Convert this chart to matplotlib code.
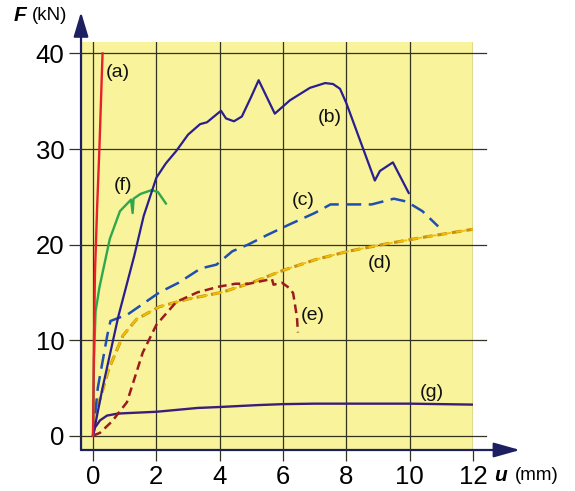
import numpy as np
import matplotlib.pyplot as plt
from matplotlib.patches import FancyArrowPatch

plt.rcParams['font.family'] = ['Liberation Sans', 'DejaVu Sans']

# Load-displacement curves
a_u = [0, 0.03, 0.06, 0.13, 0.2, 0.25, 0.3]
a_F = [0, 10, 17, 24, 30, 35, 40]

b_u = [0, 0.3, 0.8, 1.3, 1.6, 1.68, 2.0, 2.3, 2.63, 3.0, 3.38, 3.6, 4.04, 4.2, 4.45,
       4.7, 5.0, 5.23, 5.74, 6.22, 6.85, 7.33, 7.58, 7.8, 8.0, 8.9, 9.06, 9.47, 9.97]
b_F = [0, 5, 12.5, 18.8, 23, 23.8, 27, 28.5, 29.8, 31.5, 32.6, 32.8, 34, 33.2, 32.9,
       33.4, 35.5, 37.2, 33.7, 35.1, 36.4, 36.9, 36.8, 36.3, 34.8, 26.7, 27.7, 28.6, 25.4]

c_u = [0, 0.15, 0.45, 0.55, 1.1, 2.1, 2.7, 3.4, 3.9, 4.4, 4.9, 5.5, 6.2, 7.0, 7.5,
       8.8, 9.5, 9.9, 10.4, 10.9]
c_F = [0, 5, 10.5, 12, 12.7, 15, 16, 17.5, 17.9, 19.3, 20, 21, 22.1, 23.3, 24.2,
       24.2, 24.8, 24.5, 23.5, 21.9]

d_u = [0, 0.12, 0.5, 0.95, 1.38, 2.1, 3.0, 4.07, 5.0, 6.0, 7.0, 8.06, 9.3, 10.5, 12.0]
d_F = [0, 2.7, 7, 10.5, 12.2, 13.5, 14.3, 15.0, 16.0, 17.3, 18.4, 19.3, 20.1, 20.8, 21.6]

e_u = [0, 0.22, 0.6, 1.07, 1.57, 2.0, 2.63, 3.3, 3.98, 4.5, 4.92, 5.65, 5.7, 5.97,
       6.22, 6.32, 6.44, 6.47]
e_F = [0, 0.3, 1.5, 3.5, 8.7, 11.6, 14, 15, 15.6, 15.9, 15.9, 16.4, 15.8, 16.0,
       15.4, 14.9, 12.4, 10.8]

f_u = [0, 0.03, 0.08, 0.2, 0.31, 0.53, 0.85, 1.2, 1.25, 1.28, 1.5, 1.85, 2.05, 2.3]
f_F = [0, 8, 13, 15.5, 17.2, 20.6, 23.5, 24.7, 23.3, 24.8, 25.3, 25.7, 25.5, 24.3]

g_u = [0, 0.05, 0.22, 0.44, 0.76, 1.0, 2.0, 3.3, 4.0, 5.2, 6.0, 7.0, 8.0, 9.0, 10.0, 11.0, 12.0]
g_F = [0, 0.8, 1.6, 2.1, 2.3, 2.35, 2.5, 2.9, 3.0, 3.2, 3.3, 3.35, 3.35, 3.35, 3.35, 3.3, 3.25]

labels = ['(a)', '(b)', '(c)', '(d)', '(e)', '(f)', '(g)']
label_u = [0.79, 7.48, 6.63, 9.06, 6.95, 0.95, 10.7]
label_F = [38.0, 33.3, 24.6, 18.0, 12.6, 26.2, 4.5]

x_ticks = [0, 2, 4, 6, 8, 10, 12]
y_ticks = [0, 10, 20, 30, 40]

fig = plt.figure(figsize=(5.75, 4.91), dpi=100)
ax = fig.add_axes([0.1409, 0.0835, 0.6817, 0.831])
ax.set_facecolor('#f9f39b')
ax.set_xlim(-0.38, 12)
ax.set_ylim(-1.5, 41.2)

grid_col = '#333322'
ax.set_xticks(x_ticks)
ax.set_yticks(y_ticks)
ax.grid(True, color=grid_col, lw=0.9)
ax.tick_params(axis='both', direction='out', color=grid_col, width=0.9, labelsize=18.5)
ax.tick_params(axis='y', length=9, pad=3)
ax.tick_params(axis='x', length=8, pad=3)
for y in y_ticks:
    ax.plot([12, 12.4], [y, y], color=grid_col, lw=0.9, clip_on=False)

for s in ax.spines.values():
    s.set_visible(False)

# axis arrows
navy = '#1c2060'
ax.add_patch(FancyArrowPatch((0, 0), (0, 1.0735), transform=ax.transAxes,
                             arrowstyle='-|>,head_length=1.5,head_width=0.45',
                             mutation_scale=10, color=navy, lw=1.6, clip_on=False,
                             shrinkA=0, shrinkB=0))
ax.add_patch(FancyArrowPatch((0, 0), (1.12, 0), transform=ax.transAxes,
                             arrowstyle='-|>,head_length=1.6,head_width=0.45',
                             mutation_scale=10, color=navy, lw=1.6, clip_on=False,
                             shrinkA=0, shrinkB=0))

# curves
ax.plot(d_u, d_F, color='#c89010', lw=2.2, ls=(0, (3.2, 1.6)))
ax.plot(d_u, d_F, color='#f2c000', lw=1.3, ls=(0, (5.4, 2.8)))
ax.plot(g_u, g_F, color='#3a1e7a', lw=1.7)
ax.plot(e_u, e_F, color='#9b1b1f', lw=1.8, ls=(0, (3.5, 2)))
ax.plot(c_u, c_F, color='#1f4fb0', lw=1.8, ls=(0, (6, 3)))
ax.plot(f_u, f_F, color='#2ea84a', lw=1.7)
ax.plot(b_u, b_F, color='#2a1f8f', lw=1.6)
ax.plot(a_u, a_F, color='#e8202a', lw=1.7)

for t, xu, yf in zip(labels, label_u, label_F):
    ax.text(xu, yf, t, fontsize=14, ha='center', va='center', color='#111111')

# axis titles
fig.text(0.024, 0.968, 'F', fontsize=15, fontweight='bold', fontstyle='italic', va='center')
fig.text(0.056, 0.968, '(kN)', fontsize=13.5, va='center')
fig.text(0.86, 0.031, 'u', fontsize=15, fontweight='bold', fontstyle='italic', va='center')
fig.text(0.895, 0.031, '(mm)', fontsize=13.5, va='center')

plt.savefig('out.png', dpi=100)
